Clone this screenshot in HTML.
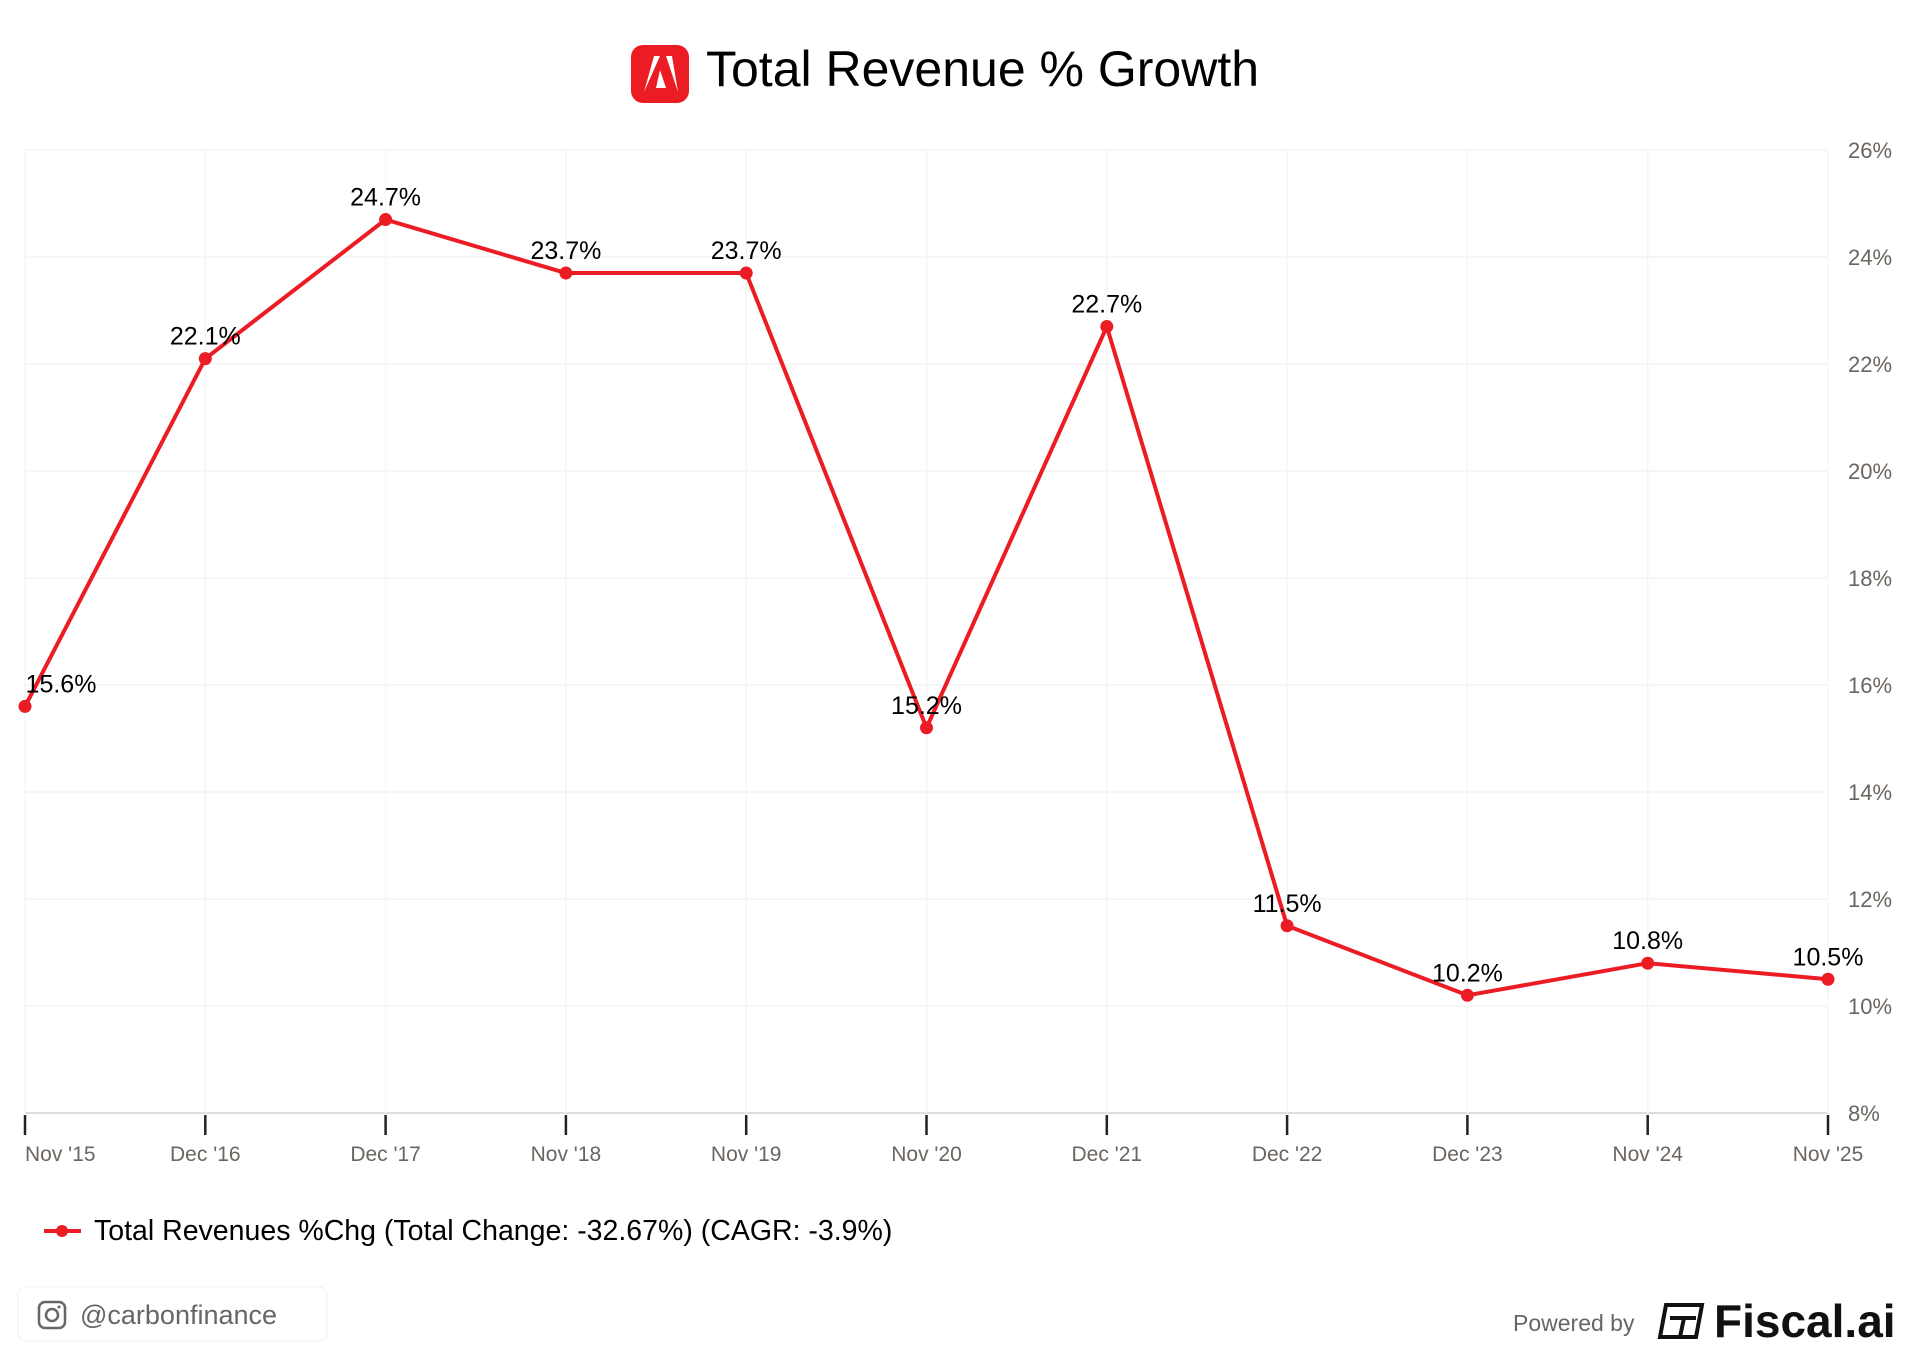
<!DOCTYPE html>
<html><head><meta charset="utf-8"><style>
body{margin:0;background:#fff;width:1920px;height:1360px;overflow:hidden;font-family:"Liberation Sans",sans-serif}
</style></head><body>
<svg width="1920" height="1360" xmlns="http://www.w3.org/2000/svg" font-family="Liberation Sans, sans-serif">
<g>
<rect x="631" y="45" width="58" height="58" rx="12" fill="#ec1c24"/>
<path d="M644 92 L654 56 L660 56 Z M666 56 L672 56 L678 92 Z M660 70 L666 88 L656 88 Z" fill="#fff"/>
<text x="706" y="86" font-size="50" fill="#000">Total Revenue % Growth</text>
</g>
<g id="grid"></g>
<g id="axes"></g>
<g id="series"></g>
<g>
<line x1="44" y1="1231" x2="81" y2="1231" stroke="#ec1c24" stroke-width="4"/>
<circle cx="62" cy="1231" r="6" fill="#ec1c24"/>
<text x="94" y="1240" font-size="28.5" fill="#000">Total Revenues %Chg (Total Change: -32.67%) (CAGR: -3.9%)</text>
</g>
<g>
<rect x="18" y="1287" width="309" height="54" rx="8" fill="#fff" stroke="#f0f0f0"/>
<rect x="39" y="1302" width="26" height="26" rx="6" fill="none" stroke="#666" stroke-width="2.5"/>
<circle cx="52" cy="1315" r="6" fill="none" stroke="#666" stroke-width="2.5"/>
<circle cx="59" cy="1307" r="1.5" fill="#666"/>
<text x="80" y="1324" font-size="27" fill="#666">@carbonfinance</text>
</g>
<g>
<text x="1513" y="1331" font-size="23" fill="#666">Powered by</text>
<g stroke="#111" stroke-width="4" fill="none"><path d="M1666 1305 L1702 1305 L1696 1337 L1660 1337 Z"/><line x1="1670" y1="1318" x2="1696" y2="1318"/><line x1="1684" y1="1318" x2="1680" y2="1337"/></g>
<text x="1714" y="1337" font-size="46" font-weight="bold" fill="#111">Fiscal.ai</text>
</g>
</svg>
<script>
const categories=["Nov '15","Dec '16","Dec '17","Nov '18","Nov '19","Nov '20","Dec '21","Dec '22","Dec '23","Nov '24","Nov '25"];
const values=[15.6,22.1,24.7,23.7,23.7,15.2,22.7,11.5,10.2,10.8,10.5];
const valueLabels=["15.6%","22.1%","24.7%","23.7%","23.7%","15.2%","22.7%","11.5%","10.2%","10.8%","10.5%"];
const yTicks=[8,10,12,14,16,18,20,22,24,26];
const NS="http://www.w3.org/2000/svg";
const X0=25,X1=1828,Y0=1113,Y1=150,YMIN=8,YMAX=26;
function xs(i){return X0+(X1-X0)*i/(categories.length-1);}
function ys(v){return Y0-(v-YMIN)/(YMAX-YMIN)*(Y0-Y1);}
function mk(tag,attrs,parent){const e=document.createElementNS(NS,tag);for(const k in attrs)e.setAttribute(k,attrs[k]);parent.appendChild(e);return e;}
const grid=document.getElementById('grid'),axes=document.getElementById('axes'),ser=document.getElementById('series');
yTicks.forEach(t=>{
 const l=mk('line',{x1:X0,x2:X1,y1:ys(t),y2:ys(t),stroke:t===YMIN?'#ddd':'#f3f3f3','stroke-width':t===YMIN?2:1.5},grid);
 
 
 const tx=mk('text',{x:1848,y:ys(t)+8,'font-size':22,fill:'#6b6560'},axes);
 tx.textContent=t+'%';
 
 
});
categories.forEach((c,i)=>{
 const g=mk('line',{x1:xs(i),x2:xs(i),y1:Y1,y2:Y0,stroke:'#f5f5f5','stroke-width':1.5},grid);
 
 
 const tk=mk('line',{x1:xs(i),x2:xs(i),y1:Y0+2,y2:Y0+22,stroke:'#222','stroke-width':2.5},axes);
 
 
 const anchor=i===0?'start':'middle';
 const tx=mk('text',{x:xs(i),y:Y0+48,'font-size':21,fill:'#6b6560','text-anchor':anchor},axes);
 tx.textContent=c;
 
 
});
const pl=mk('polyline',{points:values.map((v,i)=>xs(i)+','+ys(v)).join(' '),fill:'none',stroke:'#ec1c24','stroke-width':4,'stroke-linejoin':'round'},ser);


values.forEach((v,i)=>{
 const c=mk('circle',{cx:xs(i),cy:ys(v),r:6.5,fill:'#ec1c24'},ser);
 
 
 const t=mk('text',{x:xs(i)+(i===0?36:0),y:ys(v)-14,'font-size':25,fill:'#000','text-anchor':'middle'},ser);
 t.textContent=valueLabels[i];
 
 
});
</script>
</body></html>
